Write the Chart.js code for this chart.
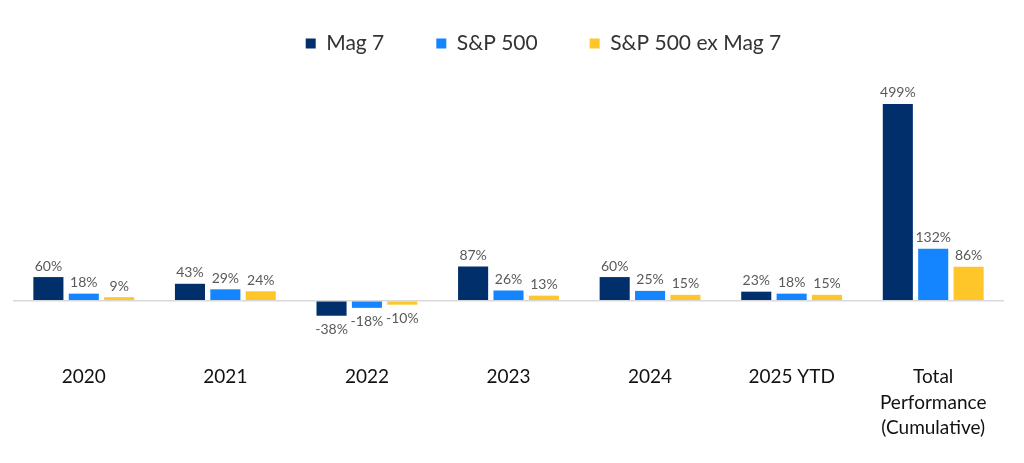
<!DOCTYPE html>
<html>
<head>
<meta charset="utf-8">
<script src="https://cdn.jsdelivr.net/npm/chart.js@4"></script>
<style>
  html, body { margin: 0; padding: 0; background: #fff; }
  #wrap { width: 1024px; height: 463px; }
</style>
</head>
<body>
<div id="wrap"><canvas id="perfChart"></canvas></div>
<script>
// categories and series
const categories = ["2020", "2021", "2022", "2023", "2024", "2025 YTD", ["Total", "Performance", "(Cumulative)"]];
const mag7 = [60, 43, -38, 87, 60, 23, 499];
const sp500 = [18, 29, -18, 26, 25, 18, 132];
const spExMag7 = [9, 24, -10, 13, 15, 15, 86];

const labelColor = "#595959";

// draws the % value above (or under, for negatives) each bar
const valueLabels = {
    id: "valueLabels",
    afterDatasetsDraw(chart) {
        const ctx = chart.ctx;
        ctx.save();
        ctx.font = "14px Lato";
        ctx.fillStyle = labelColor;
        ctx.textAlign = "center";
        chart.data.datasets.forEach((ds, i) => {
            const meta = chart.getDatasetMeta(i);
            meta.data.forEach((bar, j) => {
                const v = ds.data[j];
                if (v >= 0) {
                    ctx.textBaseline = "bottom";
                    ctx.fillText(v + "%", bar.x, bar.y - 4);
                } else {
                    ctx.textBaseline = "top";
                    ctx.fillText(v + "%", bar.x, bar.y + 7);
                }
            });
        });
        ctx.restore();
    }
};

// nudge the legend up and a bit to the right, like the original
const legendShift = {
    id: "legendShift",
    afterLayout(chart) {
        const lg = chart.legend;
        lg.top = -19;
        lg.left += 35;
        lg.right += 35;
    }
};

new Chart(document.getElementById("perfChart"), {
    type: "bar",
    data: {
        labels: categories,
        datasets: [
            { label: "Mag 7", data: mag7, backgroundColor: "#002f6c" },
            { label: "S&P 500", data: sp500, backgroundColor: "#1485ff" },
            { label: "S&P 500 ex Mag 7", data: spExMag7, backgroundColor: "#ffc629" }
        ]
    },
    options: {
        responsive: true,
        maintainAspectRatio: false,
        animation: false,
        categoryPercentage: 0.75,
        barPercentage: 0.85,
        layout: { padding: { left: 13, right: 20, top: 0, bottom: 2 } },
        plugins: {
            legend: {
                position: "top",
                labels: {
                    boxWidth: 10,
                    boxHeight: 10,
                    padding: 52,
                    color: "#333",
                    font: { family: "Lato", size: 21 }
                }
            },
            tooltip: { enabled: false }
        },
        scales: {
            x: {
                grid: { display: false },
                border: { display: false },
                ticks: {
                    color: "#111",
                    padding: 20,
                    font: { family: "Lato", size: 19, lineHeight: 1.35 },
                    maxRotation: 0,
                    autoSkip: false
                }
            },
            y: {
                min: -89.5,
                max: 552,
                border: { display: false },
                ticks: { display: false, stepSize: 1 },
                afterBuildTicks: (axis) => { axis.ticks = [{ value: 0 }]; },
                grid: {
                    drawTicks: false,
                    color: "#d9d9d9",
                    lineWidth: 1.5
                }
            }
        }
    },
    plugins: [valueLabels, legendShift]
});
</script>
</body>
</html>
